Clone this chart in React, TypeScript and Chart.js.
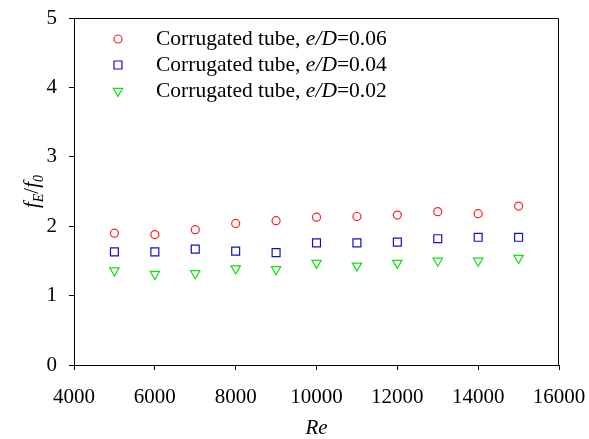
import React, { useEffect, useRef } from "react";
import { Chart, registerables } from "chart.js";

Chart.register(...registerables);

const reValues = [5000, 6000, 7000, 8000, 9000, 10000, 11000, 12000, 13000, 14000, 15000];
const ratio006 = [1.90, 1.88, 1.95, 2.04, 2.08, 2.13, 2.14, 2.16, 2.21, 2.18, 2.29];
const ratio004 = [1.63, 1.63, 1.67, 1.64, 1.62, 1.76, 1.76, 1.77, 1.82, 1.84, 1.84];
const ratio002 = [1.36, 1.31, 1.32, 1.39, 1.38, 1.47, 1.43, 1.47, 1.50, 1.50, 1.54];
const seriesValues = ["0.06", "0.04", "0.02"];
const seriesColors = ["#ff2020", "#1010c8", "#10e010"];
const pointStyles = ["circle", "rect", "triangle"];
const xTicks = [4000, 6000, 8000, 10000, 12000, 14000, 16000];
const yTicks = [0, 1, 2, 3, 4, 5];

const FONT = "'Liberation Serif', 'Times New Roman', serif";

const decorPlugin = {
  id: "decor",
  afterDraw(chart: any) {
    const { ctx, chartArea } = chart;
    const { left, right, top, bottom } = chartArea;
    ctx.save();
    // frame
    ctx.strokeStyle = "#000";
    ctx.lineWidth = 1;
    ctx.beginPath();
    ctx.moveTo(left + 0.5, top + 0.5);
    ctx.lineTo(right - 0.5, top + 0.5);
    ctx.lineTo(right - 0.5, bottom);
    ctx.stroke();

    // legend
    const rowsY = [39, 65, 91];
    const markerX = 118;
    const textX = 156;
    seriesValues.forEach((v, i) => {
      const y = rowsY[i];
      ctx.strokeStyle = seriesColors[i];
      ctx.lineWidth = 1.2;
      ctx.beginPath();
      if (i === 0) {
        ctx.arc(markerX, y, 4, 0, Math.PI * 2);
      } else if (i === 1) {
        ctx.rect(markerX - 4, y - 4, 8, 8);
      } else {
        const r = 5.4;
        ctx.moveTo(markerX, y + r);
        ctx.lineTo(markerX - r * Math.sin(Math.PI / 3), y - r * 0.5);
        ctx.lineTo(markerX + r * Math.sin(Math.PI / 3), y - r * 0.5);
        ctx.closePath();
      }
      ctx.stroke();
      ctx.fillStyle = "#000";
      ctx.textBaseline = "middle";
      ctx.textAlign = "left";
      const segs: [string, boolean][] = [
        ["Corrugated tube, ", false],
        ["e/D", true],
        ["=" + v, false],
      ];
      let x = textX;
      segs.forEach(([t, it]) => {
        ctx.font = `${it ? "italic " : ""}21.5px ${FONT}`;
        ctx.fillText(t, x, y);
        x += ctx.measureText(t).width;
      });
    });

    // x title
    ctx.fillStyle = "#000";
    ctx.font = `italic 21px ${FONT}`;
    ctx.textAlign = "center";
    ctx.textBaseline = "alphabetic";
    ctx.fillText("Re", (left + right) / 2, 434);

    // y title f_E/f_0
    ctx.translate(31, (top + bottom) / 2);
    ctx.rotate(-Math.PI / 2);
    const parts: [string, string, number][] = [
      ["f", `italic 21px ${FONT}`, 0],
      ["E", `italic 14px ${FONT}`, 5],
      ["/", `21px ${FONT}`, 0],
      ["f", `italic 21px ${FONT}`, 0],
      ["0", `italic 14px ${FONT}`, 5],
    ];
    let total = 0;
    parts.forEach(([t, f]) => {
      ctx.font = f;
      total += ctx.measureText(t).width;
    });
    let px = -total / 2;
    ctx.textAlign = "left";
    ctx.textBaseline = "alphabetic";
    parts.forEach(([t, f, dy]) => {
      ctx.font = f;
      ctx.fillText(t, px, 7 + dy);
      px += ctx.measureText(t).width;
    });
    ctx.restore();
  },
};

export default function App() {
  const ref = useRef<HTMLCanvasElement>(null);
  useEffect(() => {
    if (!ref.current) return;
    const series = [ratio006, ratio004, ratio002];
    const chart = new Chart(ref.current, {
      type: "scatter",
      data: {
        datasets: series.map((vals, i) => ({
          label: "Corrugated tube, e/D=" + seriesValues[i],
          data: reValues.map((x, j) => ({ x, y: vals[j] })),
          pointStyle: pointStyles[i] as any,
          rotation: i === 2 ? 180 : 0,
          radius: i === 0 ? 4 : i === 1 ? 5.6 : 5.4,
          borderColor: seriesColors[i],
          backgroundColor: "rgba(0,0,0,0)",
          borderWidth: 1.2,
          showLine: false,
        })),
      },
      options: {
        responsive: false,
        animation: false,
        devicePixelRatio: 1,
        layout: { padding: { top: 18, right: 30, left: 0, bottom: 0 } },
        plugins: { legend: { display: false }, tooltip: { enabled: false } },
        scales: {
          x: {
            type: "linear",
            min: xTicks[0],
            max: xTicks[xTicks.length - 1],
            afterBuildTicks: (s: any) => {
              s.ticks = xTicks.map((v) => ({ value: v }));
            },
            afterFit: (s: any) => {
              s.height = 74;
              s.paddingLeft = 0;
              s.paddingRight = 0;
            },
            grid: { display: true, drawOnChartArea: false, tickLength: 5, color: "#000" },
            border: { color: "#000", width: 1 },
            ticks: {
              color: "#000",
              font: { family: FONT, size: 21 },
              padding: 15,
              maxRotation: 0,
              callback: (v: any) => String(v),
            },
          },
          y: {
            type: "linear",
            min: yTicks[0],
            max: yTicks[yTicks.length - 1],
            afterBuildTicks: (s: any) => {
              s.ticks = yTicks.map((v) => ({ value: v }));
            },
            afterFit: (s: any) => {
              s.width = 74;
              s.paddingTop = 0;
              s.paddingBottom = 0;
            },
            grid: { display: true, drawOnChartArea: false, tickLength: 5, color: "#000" },
            border: { color: "#000", width: 1 },
            ticks: {
              color: "#000",
              font: { family: FONT, size: 21 },
              padding: 12,
              callback: (v: any) => String(v),
            },
          },
        },
      },
      plugins: [decorPlugin],
    });
    return () => chart.destroy();
  }, []);
  return (
    <div style={{ position: "absolute", left: 0, top: 0, width: 589, height: 439, background: "#fff" }}>
      <canvas ref={ref} width={589} height={439} />
    </div>
  );
}
